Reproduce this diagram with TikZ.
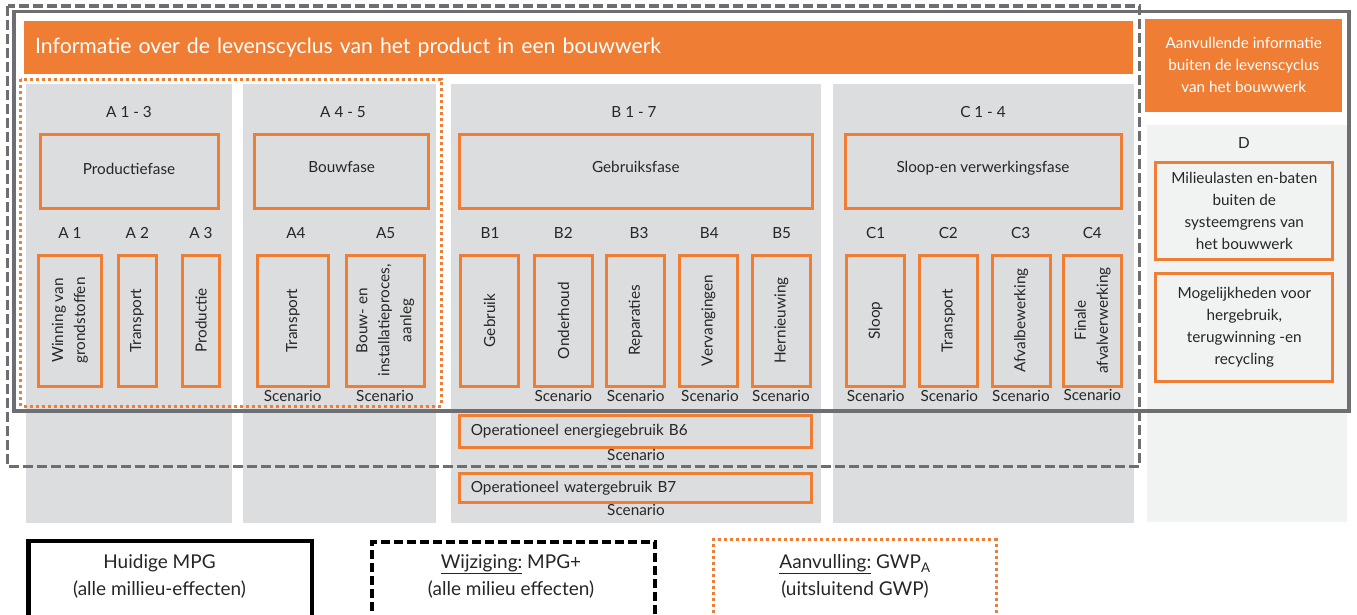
\documentclass[tikz,border=0pt]{standalone}
\usepackage{fontspec}
\setmainfont{Lato}
\definecolor{oranje}{HTML}{EF7D33}
\definecolor{paneel}{HTML}{DCDDDE}
\definecolor{paneellicht}{HTML}{F1F2F2}
\definecolor{lijngrijs}{HTML}{6D6E71}
\definecolor{tekst}{HTML}{262626}
\newcommand{\lbl}{\fontsize{15.3}{22}\selectfont}
\newcommand{\legtxt}{\fontsize{19}{27}\selectfont}

\begin{document}
\begin{tikzpicture}[x=1pt,y=-1pt,
    every node/.style={text=tekst,font=\lbl,inner sep=0pt},
    blok/.style={fill=#1,anchor=north west},
    vak/.style={draw=oranje,line width=3pt,align=center},
    fase/.style={vak,minimum height=74pt,text height=11pt,text depth=#1},
    fase/.default=8pt,
    staand/.style={vak,rotate=90,minimum width=131pt,minimum height=#1},
    staand/.default=58pt,
    dvak/.style={vak,minimum width=177pt,fill=paneellicht}]
    \useasboundingbox (0,0) rectangle (1357,614);

    \node[blok=oranje,minimum height=53pt,text width=1087pt,inner xsep=11pt,
        text=white,font=\fontsize{21.2}{25}\selectfont] (titel) at (24,21)
        {Informatie over de levenscyclus van het product in een bouwwerk};
    \node[blok=oranje,minimum width=197pt,minimum height=93pt,align=center,text=white] (extra)
        at (1145,18.5) {Aanvullende informatie\\buiten de levenscyclus\\van het bouwwerk};

    \node[blok=paneel,minimum width=206pt,minimum height=439pt] (pa) at (26,84) {};
    \node[blok=paneel,minimum width=193pt,minimum height=439pt] (pb) at (243,84) {};
    \node[blok=paneel,minimum width=370pt,minimum height=439pt] (pc) at (451,84) {};
    \node[blok=paneel,minimum width=301pt,minimum height=439pt] (pd) at (833,84) {};
    \node[blok=paneellicht,minimum width=200pt,minimum height=397pt] (pe) at (1147,125) {};

    \node (kopa) at (129,112.3) {A 1 - 3};
    \node (kopb) at (343,112.3) {A 4 - 5};
    \node (kopc) at (634,112.3) {B 1 - 7};
    \node (kopd) at (983,112.3) {C 1 - 4};
    \node (kope) at (1244,142.7) {D};

    \node[fase=5pt,minimum width=178pt] (prodfase) at (129,171.3) {Productiefase};
    \node[fase,minimum width=174pt] (bouwfase) at (341.7,171.3) {Bouwfase};
    \node[fase,minimum width=353pt] (gebrfase) at (635.8,171.3) {Gebruiksfase};
    \node[fase,minimum width=276pt] (sloopfase) at (983,171.3) {Sloop-en verwerkingsfase};

    \node (la1) at (70,233.3) {A 1};
    \node (la2) at (137.3,233.3) {A 2};
    \node (la3) at (201,233.3) {A 3};
    \node (la4) at (296,233.3) {A4};
    \node (la5) at (385.7,233.3) {A5};
    \node (lb1) at (490,233.3) {B1};
    \node (lb2) at (563.3,233.3) {B2};
    \node (lb3) at (639,233.3) {B3};
    \node (lb4) at (709.3,233.3) {B4};
    \node (lb5) at (781.7,233.3) {B5};
    \node (lc1) at (875.7,233.3) {C1};
    \node (lc2) at (948.3,233.3) {C2};
    \node (lc3) at (1020.7,233.3) {C3};
    \node (lc4) at (1092.3,233.3) {C4};

    \node[staand=63pt] (a1) at (70,320.5) {Winning van\\grondstoffen};
    \node[staand=38pt] (a2) at (137,320.5) {Transport};
    \node[staand=37pt] (a3) at (201,320.5) {Productie};
    \node[staand=71pt] (a4) at (293,320.5) {Transport};
    \node[staand=78pt] (a5) at (385.3,320.5) {Bouw- en\\installatieproces,\\aanleg};
    \node[staand] (b1) at (489.5,320.5) {Gebruik};
    \node[staand] (b2) at (563.5,320.5) {Onderhoud};
    \node[staand] (b3) at (635.5,320.5) {Reparaties};
    \node[staand] (b4) at (708.5,320.5) {Vervangingen};
    \node[staand] (b5) at (781.5,320.5) {Hernieuwing};
    \node[staand] (c1) at (875.5,320.5) {Sloop};
    \node[staand] (c2) at (948.5,320.5) {Transport};
    \node[staand] (c3) at (1021,320.5) {Afvalbewerking};
    \node[staand] (c4) at (1092.5,320.5) {Finale\\afvalverwerking};

    \node (sa4) at (292.7,396) {Scenario};
    \node (sa5) at (385,396) {Scenario};
    \node (sb2) at (563.3,396) {Scenario};
    \node (sb3) at (635.7,396) {Scenario};
    \node (sb4) at (710,396) {Scenario};
    \node (sb5) at (781,396) {Scenario};
    \node (sc1) at (875.7,396) {Scenario};
    \node (sc2) at (949.3,396) {Scenario};
    \node (sc3) at (1021,396) {Scenario};
    \node (sc4) at (1092.3,395) {Scenario};

    \node[vak,minimum height=32pt,text width=330pt,inner xsep=11pt,align=left] (b6) at (635.8,431.5)
        {Operationeel energiegebruik B6};
    \node (sb6) at (636,455) {Scenario};
    \node[vak,minimum height=29.6pt,text width=330pt,inner xsep=11pt,align=left] (b7) at (635.8,488)
        {Operationeel watergebruik B7};
    \node (sb7) at (636,510) {Scenario};

    \node[dvak,minimum height=96.7pt] (d1) at (1244.3,211)
        {Milieulasten en-baten\\buiten de\\systeemgrens van\\het bouwwerk};
    \node[dvak,minimum height=108.7pt] (d2) at (1244.3,327.5)
        {Mogelijkheden voor\\hergebruik,\\terugwinning -en\\recycling};

    \draw[lijngrijs,line width=3.5pt] (14,11.5) rectangle (1349,411);
    \draw[lijngrijs,line width=3.5pt,dash pattern=on 10pt off 4pt] (7.7,6) rectangle (1139.5,466.7);
    \draw[oranje,line width=3pt,dash pattern=on 3pt off 3pt] (20.7,79) rectangle (441,406);

    \node[draw=black,line width=4.5pt,minimum width=283.5pt,minimum height=101.5pt,anchor=north west]
        (huidig) at (26,538.5) {};
    \node[draw=black,line width=4pt,dash pattern=on 9pt off 4pt,minimum width=283pt,minimum height=101.5pt,anchor=north west]
        (wijz) at (370,539.5) {};
    \node[draw=oranje,line width=3pt,dash pattern=on 3pt off 3pt,minimum width=283.3pt,minimum height=101.5pt,anchor=north west]
        (aanv) at (711.7,538.3) {};
    \node[font=\legtxt,align=center] (thuidig) at (159.5,576.5) {Huidige MPG\\(alle millieu-effecten)};
    \node[font=\legtxt,align=center] (twijz) at (511,576.5) {\underline{Wijziging:} MPG+\\(alle milieu effecten)};
    \node[font=\legtxt,align=center] (taanv) at (855,576.5) {\underline{Aanvulling:} GWP\textsubscript{A}\\(uitsluitend GWP)};
\end{tikzpicture}
\end{document}
